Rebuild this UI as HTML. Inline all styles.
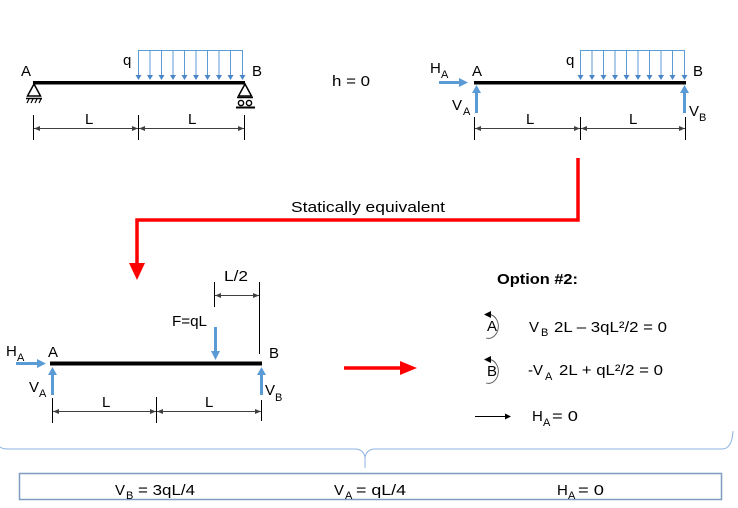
<!DOCTYPE html>
<html><head><meta charset="utf-8"><style>
html,body{margin:0;padding:0;background:#fff;}
svg{display:block;}
text{font-family:"Liberation Sans",sans-serif;fill:#000;}
</style></head><body>
<svg width="738" height="508" viewBox="0 0 738 508" xmlns="http://www.w3.org/2000/svg">
<defs>
<marker id="da" viewBox="0 0 6 6" refX="6" refY="3" markerWidth="6" markerHeight="6" orient="auto-start-reverse" markerUnits="userSpaceOnUse"><path d="M0,0.5 L6,3 L0,5.5 Z" fill="#404040"/></marker>
</defs>

<!-- ============ TOP LEFT ============ -->
<line x1="138" y1="50.5" x2="243" y2="50.5" stroke="#5B9BD5" stroke-width="1"/>
<g stroke="#5B9BD5" stroke-width="1">
  <line x1="138.5" y1="50" x2="138.5" y2="76"/><line x1="150" y1="50" x2="150" y2="76"/><line x1="161.5" y1="50" x2="161.5" y2="76"/><line x1="173" y1="50" x2="173" y2="76"/><line x1="184.5" y1="50" x2="184.5" y2="76"/><line x1="196" y1="50" x2="196" y2="76"/><line x1="207.5" y1="50" x2="207.5" y2="76"/><line x1="219" y1="50" x2="219" y2="76"/><line x1="230.5" y1="50" x2="230.5" y2="76"/><line x1="242.5" y1="50" x2="242.5" y2="76"/>
</g>
<g fill="#4A86C8">
  <path d="M135.5,75 h6 l-3,5z"/><path d="M147,75 h6 l-3,5z"/><path d="M158.5,75 h6 l-3,5z"/><path d="M170,75 h6 l-3,5z"/><path d="M181.5,75 h6 l-3,5z"/><path d="M193,75 h6 l-3,5z"/><path d="M204.5,75 h6 l-3,5z"/><path d="M216,75 h6 l-3,5z"/><path d="M227.5,75 h6 l-3,5z"/><path d="M239.5,75 h6 l-3,5z"/>
</g>
<rect x="33" y="81" width="212" height="3.5" fill="#000"/>
<!-- pin support A -->
<path d="M34,84 L27.5,96 L40.5,96 Z" fill="none" stroke="#000" stroke-width="1.5"/>
<line x1="26" y1="98.5" x2="42" y2="98.5" stroke="#000" stroke-width="1.5"/>
<g stroke="#000" stroke-width="1.2"><line x1="29" y1="99" x2="27" y2="103"/><line x1="33" y1="99" x2="31" y2="103"/><line x1="37" y1="99" x2="35" y2="103"/><line x1="41" y1="99" x2="39" y2="103"/></g>
<!-- roller support B -->
<path d="M245,84 L238.5,96 L251.5,96 Z" fill="none" stroke="#000" stroke-width="1.5"/>
<line x1="237" y1="97.5" x2="253" y2="97.5" stroke="#000" stroke-width="1.5"/>
<circle cx="241" cy="103" r="2.6" fill="none" stroke="#000" stroke-width="1.4"/>
<circle cx="249" cy="103" r="2.6" fill="none" stroke="#000" stroke-width="1.4"/>
<line x1="236" y1="107.5" x2="255" y2="107.5" stroke="#000" stroke-width="2"/>
<text x="21" y="76" font-size="15">A</text>
<text x="123" y="65" font-size="15">q</text>
<text x="252" y="76" font-size="15">B</text>
<!-- dims -->
<g stroke="#000" stroke-width="1"><line x1="33.5" y1="115" x2="33.5" y2="140"/><line x1="138.5" y1="115" x2="138.5" y2="140"/><line x1="244.5" y1="115" x2="244.5" y2="140"/></g>
<g stroke="#404040" stroke-width="0.9"><line x1="34" y1="128.5" x2="138" y2="128.5" marker-start="url(#da)" marker-end="url(#da)"/><line x1="139" y1="128.5" x2="244" y2="128.5" marker-start="url(#da)" marker-end="url(#da)"/></g>
<text x="85" y="124" font-size="15">L</text>
<text x="188" y="124" font-size="15">L</text>

<text x="332" y="86" font-size="15" textLength="38" lengthAdjust="spacingAndGlyphs">h = 0</text>

<!-- ============ TOP RIGHT ============ -->
<line x1="580" y1="50.5" x2="685" y2="50.5" stroke="#5B9BD5" stroke-width="1"/>
<g stroke="#5B9BD5" stroke-width="1">
  <line x1="580.5" y1="50" x2="580.5" y2="76"/><line x1="592" y1="50" x2="592" y2="76"/><line x1="603.5" y1="50" x2="603.5" y2="76"/><line x1="615" y1="50" x2="615" y2="76"/><line x1="626.5" y1="50" x2="626.5" y2="76"/><line x1="638" y1="50" x2="638" y2="76"/><line x1="649.5" y1="50" x2="649.5" y2="76"/><line x1="661" y1="50" x2="661" y2="76"/><line x1="672.5" y1="50" x2="672.5" y2="76"/><line x1="684.5" y1="50" x2="684.5" y2="76"/>
</g>
<g fill="#4A86C8">
  <path d="M577.5,75 h6 l-3,5z"/><path d="M589,75 h6 l-3,5z"/><path d="M600.5,75 h6 l-3,5z"/><path d="M612,75 h6 l-3,5z"/><path d="M623.5,75 h6 l-3,5z"/><path d="M635,75 h6 l-3,5z"/><path d="M646.5,75 h6 l-3,5z"/><path d="M658,75 h6 l-3,5z"/><path d="M669.5,75 h6 l-3,5z"/><path d="M681.5,75 h6 l-3,5z"/>
</g>
<rect x="474" y="81" width="212" height="3.5" fill="#000"/>
<!-- H_A arrow -->
<line x1="439" y1="82.5" x2="460" y2="82.5" stroke="#5B9BD5" stroke-width="3"/>
<path d="M459,78 L468,82.5 L459,87 Z" fill="#5B9BD5"/>
<!-- V_A, V_B arrows -->
<line x1="476.5" y1="113" x2="476.5" y2="92" stroke="#5B9BD5" stroke-width="3"/>
<path d="M472,93 L476.5,85 L481,93 Z" fill="#5B9BD5"/>
<line x1="684.5" y1="113" x2="684.5" y2="92" stroke="#5B9BD5" stroke-width="3"/>
<path d="M680,93 L684.5,85 L689,93 Z" fill="#5B9BD5"/>
<text x="430" y="73" font-size="15">H</text><text x="441" y="78" font-size="11">A</text>
<text x="472" y="76" font-size="15">A</text>
<text x="566" y="65" font-size="15">q</text>
<text x="693" y="76" font-size="15">B</text>
<text x="452" y="110" font-size="15">V</text><text x="463" y="115" font-size="11">A</text>
<text x="689" y="116" font-size="15">V</text><text x="699" y="121" font-size="11">B</text>
<g stroke="#000" stroke-width="1"><line x1="474.5" y1="117" x2="474.5" y2="140"/><line x1="580.5" y1="117" x2="580.5" y2="140"/><line x1="685.5" y1="117" x2="685.5" y2="140"/></g>
<g stroke="#404040" stroke-width="0.9"><line x1="475" y1="128.5" x2="580" y2="128.5" marker-start="url(#da)" marker-end="url(#da)"/><line x1="581" y1="128.5" x2="685" y2="128.5" marker-start="url(#da)" marker-end="url(#da)"/></g>
<text x="526" y="124" font-size="15">L</text>
<text x="629" y="124" font-size="15">L</text>

<!-- ============ RED CONNECTOR ============ -->
<path d="M578,158 V220 H137 V264" fill="none" stroke="#FF0000" stroke-width="3.5"/>
<path d="M129,263 L145,263 L137,280 Z" fill="#FF0000"/>
<text x="291" y="212" font-size="15" textLength="154" lengthAdjust="spacingAndGlyphs">Statically equivalent</text>

<!-- ============ BOTTOM LEFT ============ -->
<rect x="50" y="361.5" width="212" height="4" fill="#000"/>
<line x1="16" y1="363.5" x2="38" y2="363.5" stroke="#5B9BD5" stroke-width="3"/>
<path d="M37,359 L46,363.5 L37,368 Z" fill="#5B9BD5"/>
<line x1="52.5" y1="395" x2="52.5" y2="374" stroke="#5B9BD5" stroke-width="3"/>
<path d="M48,375 L52.5,367 L57,375 Z" fill="#5B9BD5"/>
<line x1="261.5" y1="395" x2="261.5" y2="374" stroke="#5B9BD5" stroke-width="3"/>
<path d="M257,375 L261.5,367 L266,375 Z" fill="#5B9BD5"/>
<line x1="215.5" y1="327" x2="215.5" y2="352" stroke="#5B9BD5" stroke-width="3"/>
<path d="M211,351 L215.5,360 L220,351 Z" fill="#5B9BD5"/>
<text x="6" y="356" font-size="15">H</text><text x="17" y="361" font-size="11">A</text>
<text x="48" y="357" font-size="15">A</text>
<text x="269" y="358" font-size="15">B</text>
<text x="29" y="392" font-size="15">V</text><text x="39" y="397" font-size="11">A</text>
<text x="265" y="395" font-size="15">V</text><text x="275" y="401" font-size="11">B</text>
<text x="172" y="326" font-size="15" textLength="35" lengthAdjust="spacingAndGlyphs">F=qL</text>
<text x="224" y="281" font-size="15" textLength="24" lengthAdjust="spacingAndGlyphs">L/2</text>
<g stroke="#000" stroke-width="1"><line x1="214.5" y1="282" x2="214.5" y2="307"/><line x1="259.5" y1="282" x2="259.5" y2="354"/></g>
<line x1="215" y1="295.5" x2="259" y2="295.5" stroke="#404040" stroke-width="0.9" marker-start="url(#da)" marker-end="url(#da)"/>
<g stroke="#000" stroke-width="1"><line x1="52.5" y1="398" x2="52.5" y2="423"/><line x1="156.5" y1="397" x2="156.5" y2="423"/><line x1="261.5" y1="400" x2="261.5" y2="421"/></g>
<g stroke="#404040" stroke-width="0.9"><line x1="53" y1="411.5" x2="156" y2="411.5" marker-start="url(#da)" marker-end="url(#da)"/><line x1="157" y1="411.5" x2="261" y2="411.5" marker-start="url(#da)" marker-end="url(#da)"/></g>
<text x="102" y="407" font-size="15">L</text>
<text x="205" y="407" font-size="15">L</text>

<!-- red horizontal arrow -->
<line x1="344" y1="368" x2="402" y2="368" stroke="#FF0000" stroke-width="3.5"/>
<path d="M400,361 L417,368 L400,375 Z" fill="#FF0000"/>

<!-- ============ OPTION #2 ============ -->
<text x="497" y="284" font-size="15" font-weight="bold" textLength="81" lengthAdjust="spacingAndGlyphs">Option #2:</text>
<!-- moment A -->
<path d="M490,314.5 A10 12 0 1 1 486,338" fill="none" stroke="#555" stroke-width="0.9"/>
<path d="M484,314.5 L491,311 L491,318 Z" fill="#000"/>
<text x="487" y="331" font-size="15">A</text>
<text x="529" y="332" font-size="15">V</text><text x="541" y="336" font-size="11">B</text>
<text x="554" y="332" font-size="15" textLength="113" lengthAdjust="spacingAndGlyphs">2L – 3qL²/2 = 0</text>
<!-- moment B -->
<path d="M490,359.5 A10 12 0 1 1 486,383" fill="none" stroke="#555" stroke-width="0.9"/>
<path d="M484,359.5 L491,356 L491,363 Z" fill="#000"/>
<text x="487" y="376" font-size="15">B</text>
<text x="528" y="375" font-size="15">-V</text><text x="545" y="380" font-size="11">A</text>
<text x="559" y="375" font-size="15" textLength="104" lengthAdjust="spacingAndGlyphs">2L + qL²/2 = 0</text>
<!-- H_A = 0 -->
<line x1="475" y1="416.5" x2="506" y2="416.5" stroke="#000" stroke-width="0.9"/>
<path d="M505,413.5 L511,416.5 L505,419.5 Z" fill="#000"/>
<text x="532" y="421" font-size="15">H</text><text x="543" y="426" font-size="11">A</text>
<text x="552" y="421" font-size="15" textLength="26" lengthAdjust="spacingAndGlyphs">= 0</text>

<!-- ============ BRACE ============ -->
<path d="M0,447 Q2,449 8,449 H355 Q363,449 365,457 V468 M365,457 Q367,449 375,449 H722 Q732,449 733,431" fill="none" stroke="#8DB3E2" stroke-width="1"/>

<!-- ============ RESULT BOX ============ -->
<rect x="19.5" y="473.5" width="702" height="26" fill="#fff" stroke="#7F9DC3" stroke-width="1.5"/>
<text x="115" y="495" font-size="15">V</text><text x="126" y="499" font-size="11">B</text>
<text x="138" y="495" font-size="15" textLength="57" lengthAdjust="spacingAndGlyphs">= 3qL/4</text>
<text x="334" y="495" font-size="15">V</text><text x="345" y="499" font-size="11">A</text>
<text x="356" y="495" font-size="15" textLength="50" lengthAdjust="spacingAndGlyphs">= qL/4</text>
<text x="557" y="495" font-size="15">H</text><text x="568" y="499" font-size="11">A</text>
<text x="578" y="495" font-size="15" textLength="26" lengthAdjust="spacingAndGlyphs">= 0</text>
</svg>
</body></html>
